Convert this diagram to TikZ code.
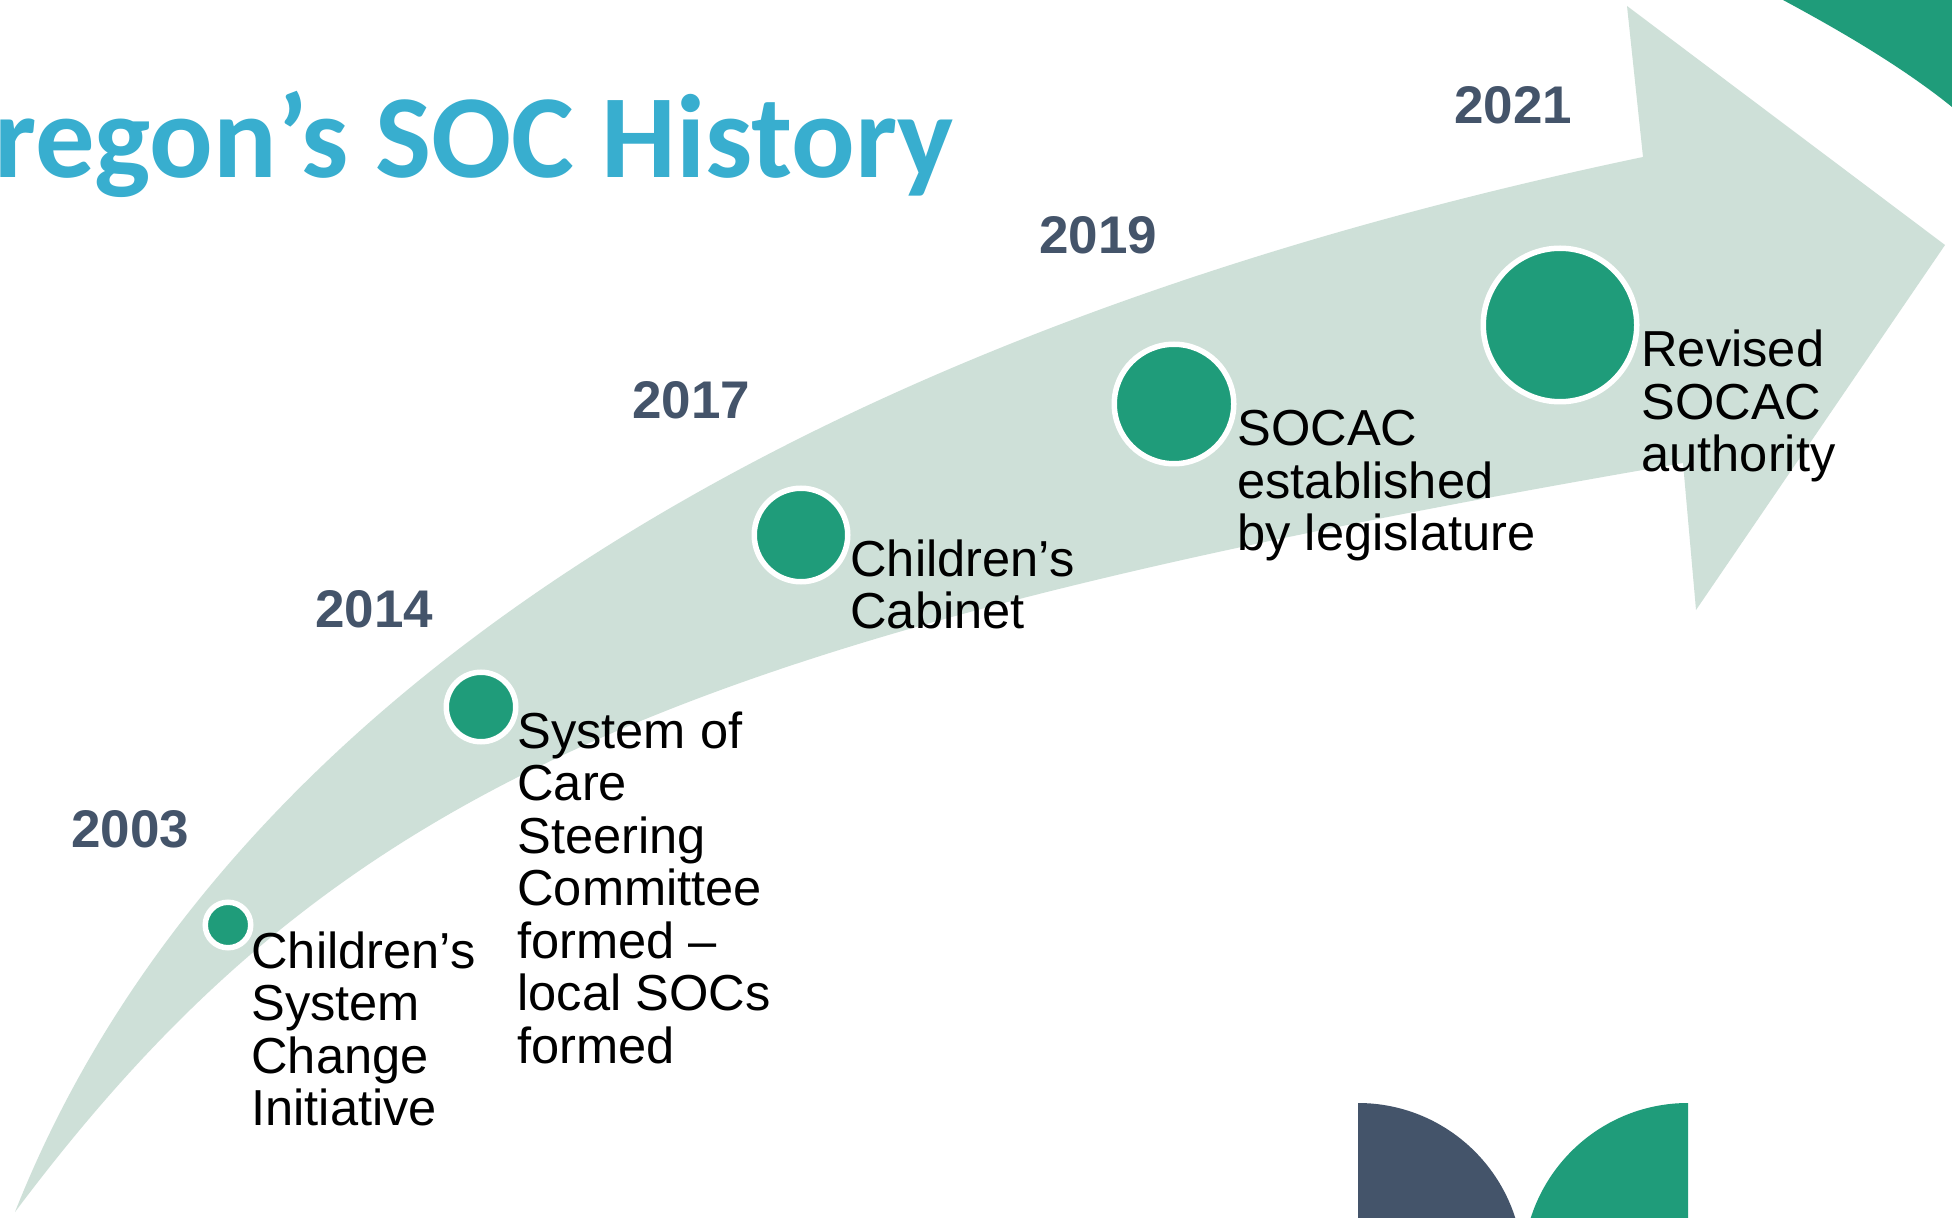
\documentclass[tikz,border=0pt]{standalone}
\usepackage{fontspec}
\setmainfont{Liberation Sans}
\newfontfamily\titlefont{Carlito}
\definecolor{socgreen}{RGB}{31,156,122}
\definecolor{band}{RGB}{206,224,216}
\definecolor{slate}{RGB}{68,84,106}
\definecolor{titleblue}{RGB}{56,174,207}
\tikzset{
  yearlbl/.style={anchor=base west, inner sep=0pt, text=slate, font=\bfseries\fontsize{26.5}{26.5}\selectfont},
  evlbl/.style={anchor=base west, inner sep=0pt, text=black, font=\fontsize{25.3}{26.25}\selectfont},
  dot/.style={circle, fill=socgreen, draw=white, line width=2.75pt, inner sep=0pt},
}
\newcommand\lines[1]{\begin{tabular}[t]{@{}l@{}}#1\end{tabular}}
\begin{document}
\begin{tikzpicture}[x=0.5pt, y=-0.5pt]
\useasboundingbox (0,0) rectangle (1952,1218);
\clip (0,0) rectangle (1952,1218);
\fill[white] (0,0) rectangle (1952,1218);
% corner ring
\fill[socgreen] (1783,0) .. controls (1835,28) and (1900,65) .. (1952,107) -- (1952,0) -- cycle;
% curved arrow
\fill[band] (15,1212) .. controls (215,706) and (784,337) .. (1643,157) -- (1627,6) -- (1945,245) -- (1696,610) -- (1683,463) .. controls (666,638) and (333,788) .. (15,1212) -- cycle;
% bottom quarter shapes
\begin{scope}
\clip (1358,1103) rectangle (1688,1218);
\fill[slate] (1358,1268) circle[radius=165];
\fill[socgreen] (1688,1268) circle[radius=165];
\end{scope}
% title
\node[anchor=base west, inner sep=0pt, text=titleblue, font=\titlefont\bfseries\fontsize{59.3}{60}\selectfont] (title) at (-6,178) {\llap{O}regon’s SOC History};
% dots
\node[dot, minimum size=22.75pt] (c2003) at (228,925) {};
\node[dot, minimum size=34.75pt] (c2014) at (481,707) {};
\node[dot, minimum size=46.75pt] (c2017) at (801,535) {};
\node[dot, minimum size=59.75pt] (c2019) at (1174,404) {};
\node[dot, minimum size=76.75pt] (c2021) at (1560,325) {};
% years
\node[yearlbl] (y2003) at (71,847) {2003};
\node[yearlbl] (y2014) at (315,627) {2014};
\node[yearlbl] (y2017) at (632,419) {2017};
\node[yearlbl] (y2019) at (1039,254) {2019};
\node[yearlbl] (y2021) at (1454,124) {2021};
% events
\node[evlbl] (t2003) at (251,968) {\lines{Children’s\\System\\Change\\Initiative}};
\node[evlbl] (t2014) at (517,748) {\lines{System of\\Care\\Steering\\Committee\\formed –\\local SOCs\\formed}};
\node[evlbl] (t2017) at (850,576) {\lines{Children’s\\Cabinet}};
\node[evlbl] (t2019) at (1237,446) {\lines{SOCAC\\established\\by legislature}};
\node[evlbl] (t2021) at (1641,367) {\lines{Revised\\SOCAC\\authority}};
\end{tikzpicture}
\end{document}
